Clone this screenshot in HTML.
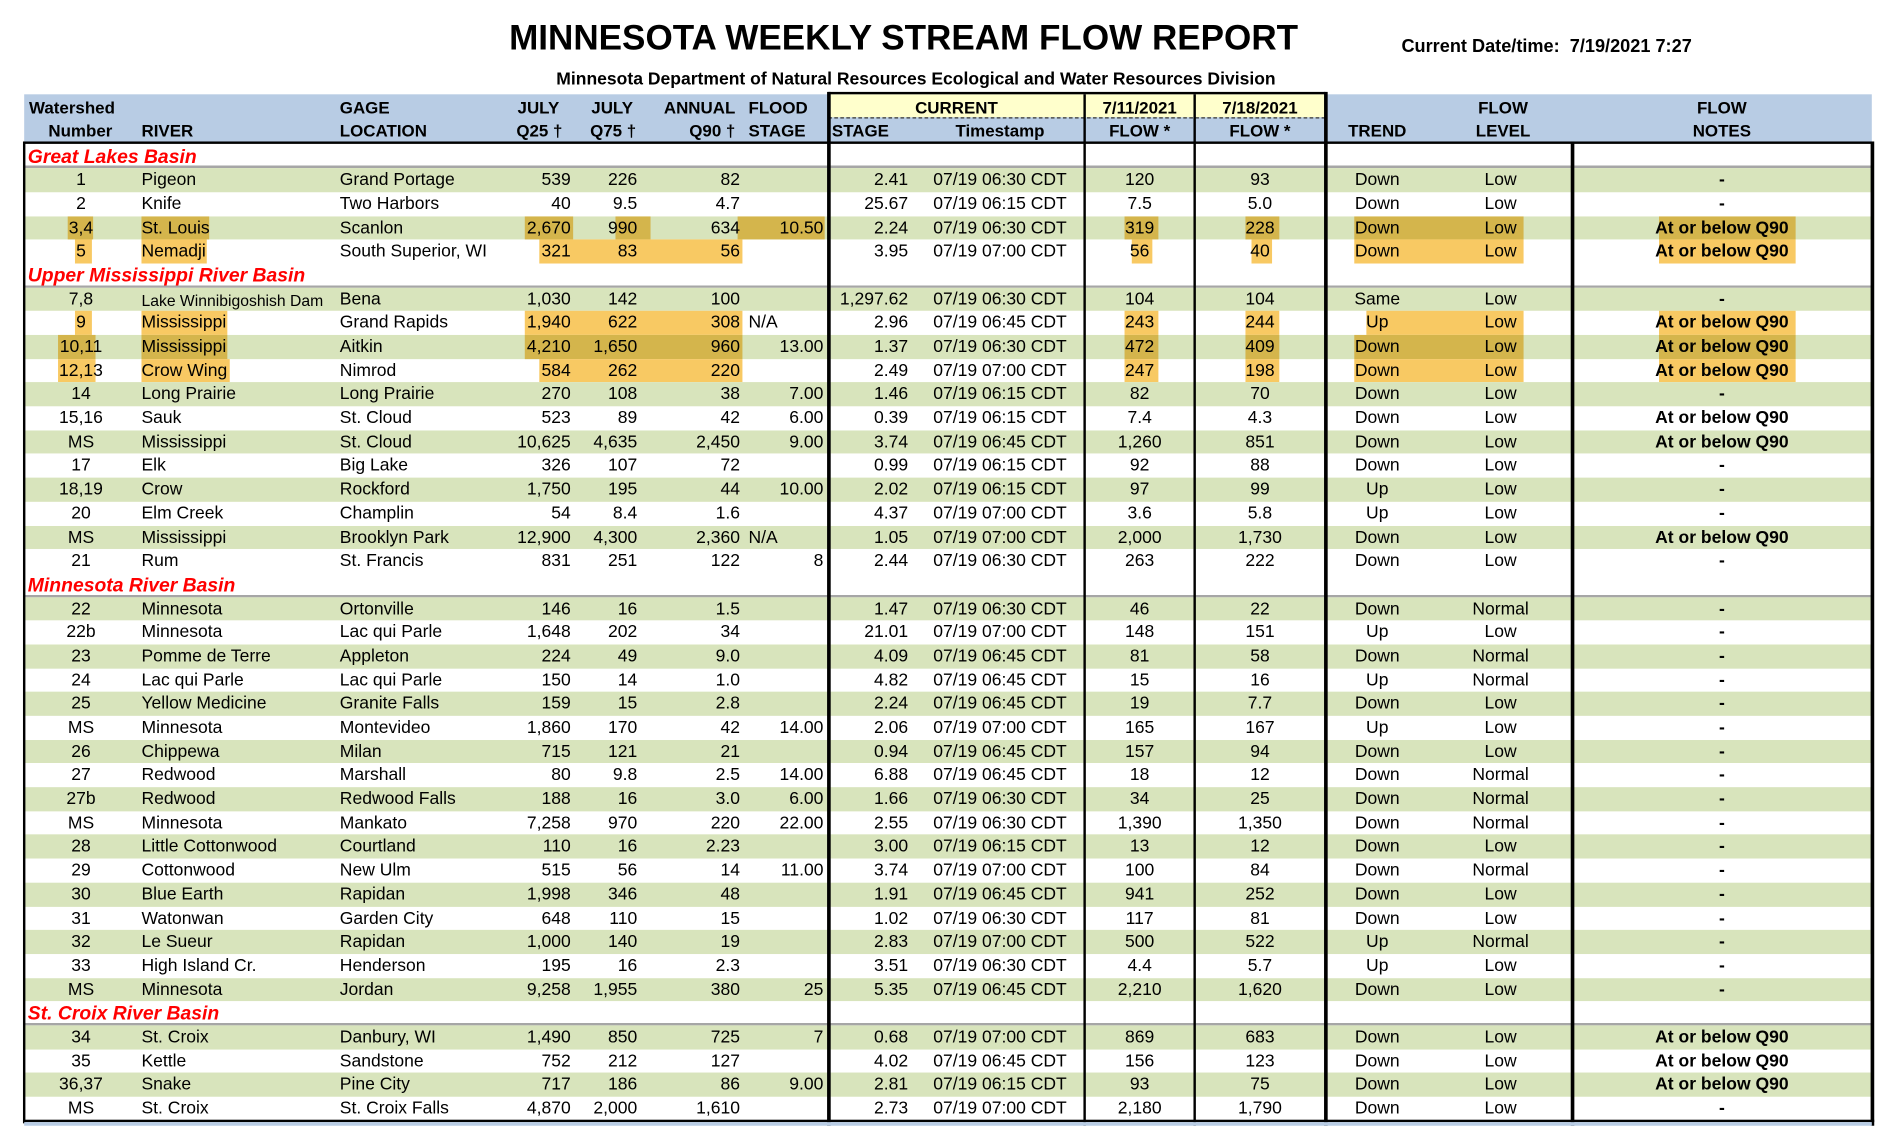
<!DOCTYPE html>
<html><head><meta charset="utf-8"><style>
html,body{margin:0;padding:0;background:#fff;}
body{width:1896px;height:1126px;overflow:hidden;position:relative;font-family:"Liberation Sans",Arial,sans-serif;color:#000;}
#p{position:absolute;left:0;top:0;width:1568px;height:931px;transform:scale(1.20918);transform-origin:0 0;}
.a{position:absolute;white-space:nowrap;}
.hb{font-weight:bold;font-size:14px;line-height:19px;}
#rows{position:absolute;left:20px;top:119.5px;width:1528px;}
.r{position:relative;height:19.69px;display:flex;line-height:21px;font-size:14.5px;}
.g{background:#d8e4bc;}
.r span{position:relative;z-index:1;white-space:nowrap;flex:none;box-sizing:border-box;}
.r span:nth-of-type(1){width:94px;text-align:center}
.r span:nth-of-type(2){width:164px;padding-left:3px}
.r span:nth-of-type(3){width:122px;padding-left:3px}
.r span:nth-of-type(4){width:75px;text-align:right;padding-right:3px}
.r span:nth-of-type(5){width:55px;text-align:right;padding-right:3px}
.r span:nth-of-type(6){width:85px;text-align:right;padding-right:3px}
.r span:nth-of-type(7){width:70px;text-align:right;padding-right:4px}
.r span:nth-of-type(8){width:72px;text-align:right;padding-right:6px}
.r span:nth-of-type(9){width:140px;text-align:center}
.r span:nth-of-type(10){width:91px;text-align:center}
.r span:nth-of-type(11){width:108px;text-align:center}
.r span:nth-of-type(12){width:86px;text-align:center}
.r span:nth-of-type(13){width:118px;text-align:center}
.r span:nth-of-type(14){width:248px;text-align:center;font-weight:bold}
.r span.na{text-align:left;padding-left:4px}
.bh{background:linear-gradient(to top,#a6a6a6 0,#a6a6a6 2px,#fff 2px);}
.bh em{position:relative;z-index:1;color:#ff0000;font-weight:bold;font-size:16px;padding-left:3px;line-height:22px;}
.h{position:absolute;top:0;height:100%;z-index:0;}
.d{background:#d4b54c;}
.o{background:#f8c963;}
.vl{position:absolute;background:#000;}
</style></head><body><div id="p">
<div class="a" style="left:421px;top:16px;font-size:29px;font-weight:bold;width:650px;text-align:center;">MINNESOTA WEEKLY STREAM FLOW REPORT</div>
<div class="a" style="left:1159px;top:30px;font-size:15px;font-weight:bold;">Current Date/time:&nbsp; 7/19/2021 7:27</div>
<div class="a" style="left:420px;top:58px;font-size:14.5px;font-weight:bold;width:675px;text-align:center;">Minnesota Department of Natural Resources Ecological and Water Resources Division</div>
<div class="a" style="left:20px;top:78px;width:1528px;height:40px;background:#b8cce4;"></div>
<div class="a" style="left:685px;top:78px;width:411px;height:19px;background:#ffffcc;"></div>
<div class="a" style="left:685px;top:97px;width:411px;height:0;border-top:1px dashed #333;"></div>
<div class="a hb" style="left:24px;top:80px;">Watershed</div>
<div class="a hb" style="left:40px;top:99px;">Number</div>
<div class="a hb" style="left:117px;top:99px;">RIVER</div>
<div class="a hb" style="left:281px;top:80px;">GAGE</div>
<div class="a hb" style="left:281px;top:99px;">LOCATION</div>
<div class="a hb" style="left:428px;top:80px;">JULY</div>
<div class="a hb" style="left:427px;top:99px;">Q25 †</div>
<div class="a hb" style="left:489px;top:80px;">JULY</div>
<div class="a hb" style="left:488px;top:99px;">Q75 †</div>
<div class="a hb" style="left:549px;top:80px;">ANNUAL</div>
<div class="a hb" style="left:570px;top:99px;">Q90 †</div>
<div class="a hb" style="left:619px;top:80px;">FLOOD</div>
<div class="a hb" style="left:619px;top:99px;">STAGE</div>
<div class="a hb" style="left:688px;top:99px;">STAGE</div>
<div class="a hb" style="left:685px;top:80px;width:212px;text-align:center;">CURRENT</div>
<div class="a hb" style="left:757px;top:99px;width:140px;text-align:center;">Timestamp</div>
<div class="a hb" style="left:897px;top:80px;width:91px;text-align:center;">7/11/2021</div>
<div class="a hb" style="left:897px;top:99px;width:91px;text-align:center;">FLOW *</div>
<div class="a hb" style="left:988px;top:80px;width:108px;text-align:center;">7/18/2021</div>
<div class="a hb" style="left:988px;top:99px;width:108px;text-align:center;">FLOW *</div>
<div class="a hb" style="left:1096px;top:99px;width:86px;text-align:center;">TREND</div>
<div class="a hb" style="left:1182px;top:80px;width:122px;text-align:center;">FLOW</div>
<div class="a hb" style="left:1182px;top:99px;width:122px;text-align:center;">LEVEL</div>
<div class="a hb" style="left:1300px;top:80px;width:248px;text-align:center;">FLOW</div>
<div class="a hb" style="left:1300px;top:99px;width:248px;text-align:center;">NOTES</div>

<div id="rows">
<div class="r bh"><em>Great Lakes Basin</em></div>
<div class="r g"><span>1</span><span>Pigeon</span><span>Grand Portage</span><span>539</span><span>226</span><span>82</span><span></span><span>2.41</span><span>07/19 06:30 CDT</span><span>120</span><span>93</span><span>Down</span><span>Low</span><span>-</span></div>
<div class="r"><span>2</span><span>Knife</span><span>Two Harbors</span><span>40</span><span>9.5</span><span>4.7</span><span></span><span>25.67</span><span>07/19 06:15 CDT</span><span>7.5</span><span>5.0</span><span>Down</span><span>Low</span><span>-</span></div>
<div class="r g"><b class="h d" style="left:36px;width:21px"></b><b class="h d" style="left:97px;width:56px"></b><b class="h d" style="left:414px;width:40px"></b><b class="h d" style="left:489px;width:29px"></b><b class="h d" style="left:590px;width:72px"></b><b class="h d" style="left:910px;width:28px"></b><b class="h d" style="left:1010px;width:28px"></b><b class="h d" style="left:1100px;width:140px"></b><b class="h d" style="left:1352px;width:113px"></b><span>3,4</span><span>St. Louis</span><span>Scanlon</span><span>2,670</span><span>990</span><span>634</span><span>10.50</span><span>2.24</span><span>07/19 06:30 CDT</span><span>319</span><span>228</span><span>Down</span><span>Low</span><span>At or below Q90</span></div>
<div class="r"><b class="h o" style="left:42px;width:14px"></b><b class="h o" style="left:97px;width:54px"></b><b class="h o" style="left:426px;width:168px"></b><b class="h o" style="left:916px;width:17px"></b><b class="h o" style="left:1015px;width:17px"></b><b class="h o" style="left:1100px;width:140px"></b><b class="h o" style="left:1352px;width:113px"></b><span>5</span><span>Nemadji</span><span>South Superior, WI</span><span>321</span><span>83</span><span>56</span><span></span><span>3.95</span><span>07/19 07:00 CDT</span><span>56</span><span>40</span><span>Down</span><span>Low</span><span>At or below Q90</span></div>
<div class="r bh"><em>Upper Mississippi River Basin</em></div>
<div class="r g"><span>7,8</span><span style="font-size:13px">Lake Winnibigoshish Dam</span><span>Bena</span><span>1,030</span><span>142</span><span>100</span><span></span><span>1,297.62</span><span>07/19 06:30 CDT</span><span>104</span><span>104</span><span>Same</span><span>Low</span><span>-</span></div>
<div class="r"><b class="h o" style="left:42px;width:14px"></b><b class="h o" style="left:97px;width:71px"></b><b class="h o" style="left:414px;width:180px"></b><b class="h o" style="left:910px;width:28px"></b><b class="h o" style="left:1010px;width:28px"></b><b class="h o" style="left:1110px;width:130px"></b><b class="h o" style="left:1352px;width:113px"></b><span>9</span><span>Mississippi</span><span>Grand Rapids</span><span>1,940</span><span>622</span><span>308</span><span class="na">N/A</span><span>2.96</span><span>07/19 06:45 CDT</span><span>243</span><span>244</span><span>Up</span><span>Low</span><span>At or below Q90</span></div>
<div class="r g"><b class="h d" style="left:28px;width:31px"></b><b class="h d" style="left:97px;width:71px"></b><b class="h d" style="left:414px;width:180px"></b><b class="h d" style="left:910px;width:28px"></b><b class="h d" style="left:1010px;width:28px"></b><b class="h d" style="left:1100px;width:140px"></b><b class="h d" style="left:1352px;width:113px"></b><span>10,11</span><span>Mississippi</span><span>Aitkin</span><span>4,210</span><span>1,650</span><span>960</span><span>13.00</span><span>1.37</span><span>07/19 06:30 CDT</span><span>472</span><span>409</span><span>Down</span><span>Low</span><span>At or below Q90</span></div>
<div class="r"><b class="h o" style="left:28px;width:31px"></b><b class="h o" style="left:97px;width:73px"></b><b class="h o" style="left:426px;width:168px"></b><b class="h o" style="left:910px;width:28px"></b><b class="h o" style="left:1010px;width:28px"></b><b class="h o" style="left:1100px;width:140px"></b><b class="h o" style="left:1352px;width:113px"></b><span>12,13</span><span>Crow Wing</span><span>Nimrod</span><span>584</span><span>262</span><span>220</span><span></span><span>2.49</span><span>07/19 07:00 CDT</span><span>247</span><span>198</span><span>Down</span><span>Low</span><span>At or below Q90</span></div>
<div class="r g"><span>14</span><span>Long Prairie</span><span>Long Prairie</span><span>270</span><span>108</span><span>38</span><span>7.00</span><span>1.46</span><span>07/19 06:15 CDT</span><span>82</span><span>70</span><span>Down</span><span>Low</span><span>-</span></div>
<div class="r"><span>15,16</span><span>Sauk</span><span>St. Cloud</span><span>523</span><span>89</span><span>42</span><span>6.00</span><span>0.39</span><span>07/19 06:15 CDT</span><span>7.4</span><span>4.3</span><span>Down</span><span>Low</span><span>At or below Q90</span></div>
<div class="r g"><span>MS</span><span>Mississippi</span><span>St. Cloud</span><span>10,625</span><span>4,635</span><span>2,450</span><span>9.00</span><span>3.74</span><span>07/19 06:45 CDT</span><span>1,260</span><span>851</span><span>Down</span><span>Low</span><span>At or below Q90</span></div>
<div class="r"><span>17</span><span>Elk</span><span>Big Lake</span><span>326</span><span>107</span><span>72</span><span></span><span>0.99</span><span>07/19 06:15 CDT</span><span>92</span><span>88</span><span>Down</span><span>Low</span><span>-</span></div>
<div class="r g"><span>18,19</span><span>Crow</span><span>Rockford</span><span>1,750</span><span>195</span><span>44</span><span>10.00</span><span>2.02</span><span>07/19 06:15 CDT</span><span>97</span><span>99</span><span>Up</span><span>Low</span><span>-</span></div>
<div class="r"><span>20</span><span>Elm Creek</span><span>Champlin</span><span>54</span><span>8.4</span><span>1.6</span><span></span><span>4.37</span><span>07/19 07:00 CDT</span><span>3.6</span><span>5.8</span><span>Up</span><span>Low</span><span>-</span></div>
<div class="r g"><span>MS</span><span>Mississippi</span><span>Brooklyn Park</span><span>12,900</span><span>4,300</span><span>2,360</span><span class="na">N/A</span><span>1.05</span><span>07/19 07:00 CDT</span><span>2,000</span><span>1,730</span><span>Down</span><span>Low</span><span>At or below Q90</span></div>
<div class="r"><span>21</span><span>Rum</span><span>St. Francis</span><span>831</span><span>251</span><span>122</span><span>8</span><span>2.44</span><span>07/19 06:30 CDT</span><span>263</span><span>222</span><span>Down</span><span>Low</span><span>-</span></div>
<div class="r bh"><em>Minnesota River Basin</em></div>
<div class="r g"><span>22</span><span>Minnesota</span><span>Ortonville</span><span>146</span><span>16</span><span>1.5</span><span></span><span>1.47</span><span>07/19 06:30 CDT</span><span>46</span><span>22</span><span>Down</span><span>Normal</span><span>-</span></div>
<div class="r"><span>22b</span><span>Minnesota</span><span>Lac qui Parle</span><span>1,648</span><span>202</span><span>34</span><span></span><span>21.01</span><span>07/19 07:00 CDT</span><span>148</span><span>151</span><span>Up</span><span>Low</span><span>-</span></div>
<div class="r g"><span>23</span><span>Pomme de Terre</span><span>Appleton</span><span>224</span><span>49</span><span>9.0</span><span></span><span>4.09</span><span>07/19 06:45 CDT</span><span>81</span><span>58</span><span>Down</span><span>Normal</span><span>-</span></div>
<div class="r"><span>24</span><span>Lac qui Parle</span><span>Lac qui Parle</span><span>150</span><span>14</span><span>1.0</span><span></span><span>4.82</span><span>07/19 06:45 CDT</span><span>15</span><span>16</span><span>Up</span><span>Normal</span><span>-</span></div>
<div class="r g"><span>25</span><span>Yellow Medicine</span><span>Granite Falls</span><span>159</span><span>15</span><span>2.8</span><span></span><span>2.24</span><span>07/19 06:45 CDT</span><span>19</span><span>7.7</span><span>Down</span><span>Low</span><span>-</span></div>
<div class="r"><span>MS</span><span>Minnesota</span><span>Montevideo</span><span>1,860</span><span>170</span><span>42</span><span>14.00</span><span>2.06</span><span>07/19 07:00 CDT</span><span>165</span><span>167</span><span>Up</span><span>Low</span><span>-</span></div>
<div class="r g"><span>26</span><span>Chippewa</span><span>Milan</span><span>715</span><span>121</span><span>21</span><span></span><span>0.94</span><span>07/19 06:45 CDT</span><span>157</span><span>94</span><span>Down</span><span>Low</span><span>-</span></div>
<div class="r"><span>27</span><span>Redwood</span><span>Marshall</span><span>80</span><span>9.8</span><span>2.5</span><span>14.00</span><span>6.88</span><span>07/19 06:45 CDT</span><span>18</span><span>12</span><span>Down</span><span>Normal</span><span>-</span></div>
<div class="r g"><span>27b</span><span>Redwood</span><span>Redwood Falls</span><span>188</span><span>16</span><span>3.0</span><span>6.00</span><span>1.66</span><span>07/19 06:30 CDT</span><span>34</span><span>25</span><span>Down</span><span>Normal</span><span>-</span></div>
<div class="r"><span>MS</span><span>Minnesota</span><span>Mankato</span><span>7,258</span><span>970</span><span>220</span><span>22.00</span><span>2.55</span><span>07/19 06:30 CDT</span><span>1,390</span><span>1,350</span><span>Down</span><span>Normal</span><span>-</span></div>
<div class="r g"><span>28</span><span>Little Cottonwood</span><span>Courtland</span><span>110</span><span>16</span><span>2.23</span><span></span><span>3.00</span><span>07/19 06:15 CDT</span><span>13</span><span>12</span><span>Down</span><span>Low</span><span>-</span></div>
<div class="r"><span>29</span><span>Cottonwood</span><span>New Ulm</span><span>515</span><span>56</span><span>14</span><span>11.00</span><span>3.74</span><span>07/19 07:00 CDT</span><span>100</span><span>84</span><span>Down</span><span>Normal</span><span>-</span></div>
<div class="r g"><span>30</span><span>Blue Earth</span><span>Rapidan</span><span>1,998</span><span>346</span><span>48</span><span></span><span>1.91</span><span>07/19 06:45 CDT</span><span>941</span><span>252</span><span>Down</span><span>Low</span><span>-</span></div>
<div class="r"><span>31</span><span>Watonwan</span><span>Garden City</span><span>648</span><span>110</span><span>15</span><span></span><span>1.02</span><span>07/19 06:30 CDT</span><span>117</span><span>81</span><span>Down</span><span>Low</span><span>-</span></div>
<div class="r g"><span>32</span><span>Le Sueur</span><span>Rapidan</span><span>1,000</span><span>140</span><span>19</span><span></span><span>2.83</span><span>07/19 07:00 CDT</span><span>500</span><span>522</span><span>Up</span><span>Normal</span><span>-</span></div>
<div class="r"><span>33</span><span>High Island Cr.</span><span>Henderson</span><span>195</span><span>16</span><span>2.3</span><span></span><span>3.51</span><span>07/19 06:30 CDT</span><span>4.4</span><span>5.7</span><span>Up</span><span>Low</span><span>-</span></div>
<div class="r g"><span>MS</span><span>Minnesota</span><span>Jordan</span><span>9,258</span><span>1,955</span><span>380</span><span>25</span><span>5.35</span><span>07/19 06:45 CDT</span><span>2,210</span><span>1,620</span><span>Down</span><span>Low</span><span>-</span></div>
<div class="r bh"><em>St. Croix River Basin</em></div>
<div class="r g"><span>34</span><span>St. Croix</span><span>Danbury, WI</span><span>1,490</span><span>850</span><span>725</span><span>7</span><span>0.68</span><span>07/19 07:00 CDT</span><span>869</span><span>683</span><span>Down</span><span>Low</span><span>At or below Q90</span></div>
<div class="r"><span>35</span><span>Kettle</span><span>Sandstone</span><span>752</span><span>212</span><span>127</span><span></span><span>4.02</span><span>07/19 06:45 CDT</span><span>156</span><span>123</span><span>Down</span><span>Low</span><span>At or below Q90</span></div>
<div class="r g"><span>36,37</span><span>Snake</span><span>Pine City</span><span>717</span><span>186</span><span>86</span><span>9.00</span><span>2.81</span><span>07/19 06:15 CDT</span><span>93</span><span>75</span><span>Down</span><span>Low</span><span>At or below Q90</span></div>
<div class="r"><span>MS</span><span>St. Croix</span><span>St. Croix Falls</span><span>4,870</span><span>2,000</span><span>1,610</span><span></span><span>2.73</span><span>07/19 07:00 CDT</span><span>2,180</span><span>1,790</span><span>Down</span><span>Low</span><span>-</span></div>
</div>

<div class="vl" style="left:20px;top:117px;width:1528px;height:2px;"></div>
<div class="vl" style="left:685px;top:76px;width:411px;height:2px;"></div>
<div class="vl" style="left:19px;top:117px;width:2px;height:812px;"></div>
<div class="vl" style="left:684px;top:76px;width:2.5px;height:855px;"></div>
<div class="vl" style="left:896px;top:78px;width:1.5px;height:853px;"></div>
<div class="vl" style="left:987px;top:78px;width:1.5px;height:853px;"></div>
<div class="vl" style="left:1095px;top:76px;width:2.5px;height:855px;"></div>
<div class="vl" style="left:1299px;top:117px;width:2.5px;height:814px;"></div>
<div class="vl" style="left:1547px;top:117px;width:2.5px;height:814px;"></div>
<div class="vl" style="left:19px;top:926px;width:1531px;height:2px;"></div>
<div class="a" style="left:20px;top:928px;width:1528px;height:3px;background:#b8cce4;"></div>
</div></body></html>
